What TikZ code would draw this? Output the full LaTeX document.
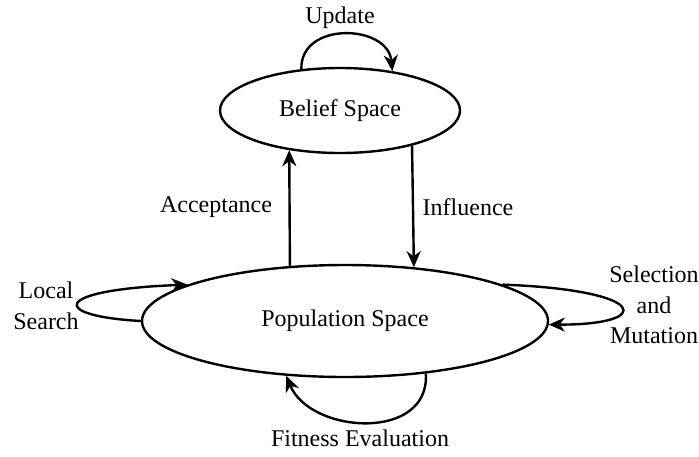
\documentclass[tikz,border=0pt]{standalone}
\usepackage{fontspec}
\setmainfont{Liberation Serif}
\usetikzlibrary{shapes.geometric,arrows.meta}
\tikzset{
  space/.style={ellipse, draw, line width=2.4pt, inner sep=0pt},
  lbl/.style={align=center, inner sep=0pt},
  conn/.style={line width=2.4pt, -{Stealth[length=16pt,width=14pt,inset=5pt]}}
}
\begin{document}
\begin{tikzpicture}[x=1pt,y=-1pt,font=\fontsize{24}{30.5}\selectfont]
\useasboundingbox (0,0) rectangle (699,456);
\node[space, minimum width=240pt, minimum height=85pt] (belief) at (340,110.5) {Belief Space};
\node[space, minimum width=406pt, minimum height=112pt] (pop) at (345,321) {Population Space};

\node[lbl] (upd) at (340,18) {Update};
\node[lbl] (acc) at (216,207) {Acceptance};
\node[lbl] (inf) at (468,207) {Influence};
\node[lbl] (ls) at (46,306) {Local\\Search};
\node[lbl] (sm) at (654,305) {Selection\\and\\Mutation};
\node[lbl] (fe) at (360,438) {Fitness Evaluation};

% acceptance and influence
\draw[conn] (pop.135) -- (belief.218.4);
\draw[conn] (belief.334.2) -- (pop.38.8);
% update loop
\draw[conn] (belief.133.3) .. controls (300,21) and (388,24) .. (belief.37.7);
% local search loop
\draw[conn] (pop.180) .. controls (50,316) and (50,290) .. (pop.167.3);
% selection and mutation loop
\draw[conn] (pop.13.7) .. controls (650,290) and (655,325) .. (pop.359);
% fitness evaluation loop
\draw[conn] (pop.327.6) .. controls (430,442) and (310,434) .. (pop.223.3);
\end{tikzpicture}
\end{document}
